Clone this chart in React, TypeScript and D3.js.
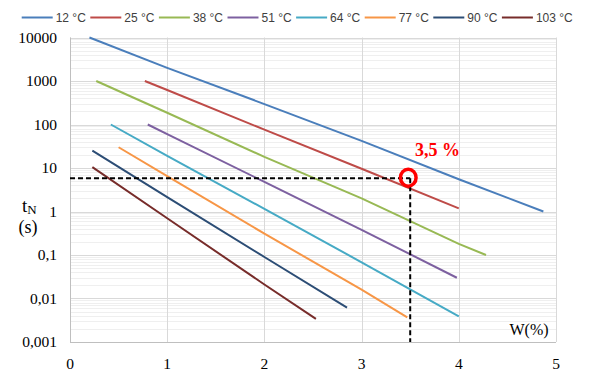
import React, { useEffect, useRef } from 'react';
import * as d3 from 'd3';

const seriesNames = ['12 °C', '25 °C', '38 °C', '51 °C', '64 °C', '77 °C', '90 °C', '103 °C'];
const seriesColors = ['#4A7EBB', '#BE4B48', '#98B954', '#7D60A0', '#46AAC5', '#F79646', '#2C4D75', '#772C2A'];

const s12: [number, number][] = [[0.2, 10000], [1, 2000], [2, 295], [3, 42], [4, 5.5], [4.87, 1.0]];
const s25: [number, number][] = [[0.77, 1000], [1, 620], [2, 76], [3, 9.6], [4, 1.18]];
const s38: [number, number][] = [[0.27, 1000], [1, 186], [2, 18], [3, 2.0], [4, 0.18], [4.28, 0.1]];
const s51: [number, number][] = [[0.8, 100], [1, 60], [2, 4.8], [3, 0.38], [3.98, 0.03]];
const s64: [number, number][] = [[0.42, 100], [1, 19], [2, 1.15], [3, 0.068], [4, 0.0039]];
const s77: [number, number][] = [[0.5, 30], [1, 6.5], [2, 0.31], [3, 0.016], [3.47, 0.0037]];
const s90: [number, number][] = [[0.23, 25], [1, 2.15], [2, 0.09], [2.85, 0.0062]];
const s103: [number, number][] = [[0.23, 10.5], [1, 0.7], [2, 0.021], [2.53, 0.0034]];
const allSeries = [s12, s25, s38, s51, s64, s77, s90, s103];

const xTicks = [0, 1, 2, 3, 4, 5];
const yTicks = [0.001, 0.01, 0.1, 1, 10, 100, 1000, 10000];
const yTickLabels = ['0,001', '0,01', '0,1', '1', '10', '100', '1000', '10000'];

const markW = 3.5;
const markT = 5.8;
const circleX = 3.48;
const circleY = 6.0;
const markLabel = '3,5 %';

export default function App() {
  const ref = useRef<SVGSVGElement>(null);
  useEffect(() => {
    document.body.style.margin = '0';
    const svg = d3.select(ref.current);
    svg.selectAll('*').remove();
    const x = d3.scaleLinear().domain([0, 5]).range([70, 556]);
    const y = d3.scaleLog().domain([0.001, 10000]).range([342, 37.5]);
    const serif = "'Liberation Serif', 'Times New Roman', serif";
    const sans = "'Liberation Sans', Arial, sans-serif";

    // minor gridlines
    const minor: number[] = [];
    for (let d = -3; d < 4; d++) for (let m = 2; m <= 9; m++) minor.push(m * Math.pow(10, d));
    svg.append('g').selectAll('line').data(minor).join('line')
      .attr('x1', x(0)).attr('x2', x(5))
      .attr('y1', (v) => Math.round(y(v)) + 0.5).attr('y2', (v) => Math.round(y(v)) + 0.5)
      .attr('stroke', '#EFEFEF').attr('stroke-width', 1);
    // major gridlines
    svg.append('g').selectAll('line').data(yTicks).join('line')
      .attr('x1', x(0)).attr('x2', x(5))
      .attr('y1', (v) => Math.round(y(v)) + 0.5).attr('y2', (v) => Math.round(y(v)) + 0.5)
      .attr('stroke', '#D9D9D9').attr('stroke-width', 1);
    svg.append('g').selectAll('line').data(xTicks).join('line')
      .attr('x1', (v) => Math.round(x(v)) + 0.5).attr('x2', (v) => Math.round(x(v)) + 0.5)
      .attr('y1', y(10000)).attr('y2', y(0.001))
      .attr('stroke', '#D9D9D9').attr('stroke-width', 1);
    // axes
    svg.append('line').attr('x1', Math.round(x(0)) + 0.5).attr('x2', Math.round(x(0)) + 0.5)
      .attr('y1', y(10000)).attr('y2', y(0.001)).attr('stroke', '#BFBFBF');
    svg.append('line').attr('x1', x(0)).attr('x2', x(5))
      .attr('y1', Math.round(y(0.001)) + 0.5).attr('y2', Math.round(y(0.001)) + 0.5).attr('stroke', '#BFBFBF');

    // tick labels
    svg.append('g').selectAll('text').data(yTicks).join('text')
      .attr('x', 57).attr('y', (v) => y(v) + 5)
      .attr('text-anchor', 'end').style('font-family', serif).attr('font-size', 15.5).attr('fill', '#000')
      .text((_, i) => yTickLabels[i]);
    svg.append('g').selectAll('text').data(xTicks).join('text')
      .attr('x', (v) => x(v)).attr('y', 368.5)
      .attr('text-anchor', 'middle').style('font-family', serif).attr('font-size', 15.5).attr('fill', '#000')
      .text((v) => String(v));

    // series
    const line = d3.line<[number, number]>().x((d) => x(d[0])).y((d) => y(d[1]));
    allSeries.forEach((s, i) => {
      svg.append('path').attr('d', line(s) as string).attr('fill', 'none')
        .attr('stroke', seriesColors[i]).attr('stroke-width', 2).attr('stroke-linejoin', 'round');
    });

    // dashed guides
    svg.append('line').attr('x1', x(0)).attr('x2', x(markW)).attr('y1', y(markT)).attr('y2', y(markT))
      .attr('stroke', '#000').attr('stroke-width', 2).attr('stroke-dasharray', '5,3');
    svg.append('line').attr('x1', x(markW)).attr('x2', x(markW)).attr('y1', y(markT)).attr('y2', y(0.001))
      .attr('stroke', '#000').attr('stroke-width', 2).attr('stroke-dasharray', '5,3');
    svg.append('ellipse').attr('cx', x(circleX)).attr('cy', y(circleY)).attr('rx', 7.8).attr('ry', 8.5)
      .attr('fill', 'none').attr('stroke', '#FF0000').attr('stroke-width', 3.5);
    svg.append('text').attr('x', 415).attr('y', 155.5).style('font-family', serif).attr('font-weight', 'bold')
      .attr('font-size', 18).attr('fill', '#FF0000').text(markLabel);

    // axis titles
    const t = svg.append('text').attr('x', 22).attr('y', 211.5).style('font-family', serif).attr('font-size', 19).attr('fill', '#000');
    t.append('tspan').text('t');
    t.append('tspan').attr('font-size', 13).attr('dy', 2).text('N');
    svg.append('text').attr('x', 28).attr('y', 232.5).attr('text-anchor', 'middle').style('font-family', serif)
      .attr('font-size', 18).attr('fill', '#000').text('(s)');
    svg.append('text').attr('x', 529).attr('y', 335).attr('text-anchor', 'middle').style('font-family', serif)
      .attr('font-size', 16).attr('fill', '#000').text('W(%)');

    // legend
    const lg = svg.append('g');
    seriesNames.forEach((n, i) => {
      const x0 = 21.7 + i * 68.6;
      lg.append('line').attr('x1', x0).attr('x2', x0 + 31).attr('y1', 17.5).attr('y2', 17.5)
        .attr('stroke', seriesColors[i]).attr('stroke-width', 2);
      lg.append('text').attr('x', x0 + 34).attr('y', 21.8).style('font-family', sans).attr('font-size', 12)
        .attr('fill', '#404040').text(n);
    });
  }, []);
  return <svg ref={ref} width={596} height={387} style={{ display: 'block', background: '#fff' }} />;
}
